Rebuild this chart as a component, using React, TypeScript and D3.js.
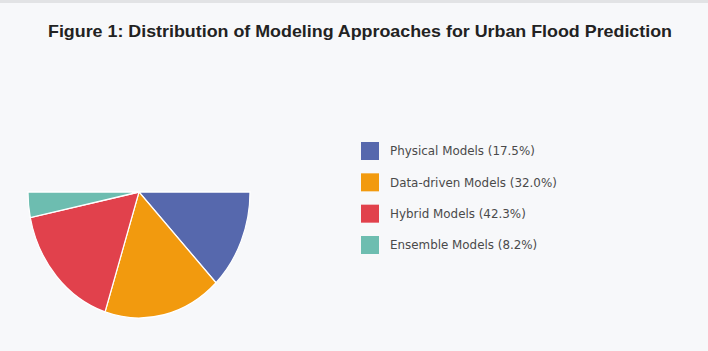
import React from "react";
import * as d3 from "d3";

// legend labels (as printed)
const categories = ["Physical Models", "Data-driven Models", "Hybrid Models", "Ensemble Models"];
const labelPercents = [17.5, 32.0, 42.3, 8.2];
// slice sizes as drawn (share of the half circle)
const sliceShares = [25.6, 34.3, 33.6, 6.5];
const colors = ["#5668ad", "#f29a0e", "#e1414c", "#6dbdb0"];

const title = "Figure 1: Distribution of Modeling Approaches for Urban Flood Prediction";

const App = () => {
  const width = 708;
  const height = 351;
  const cx = 139;
  const cy = 192;
  const radius = 111;
  const squash = 1.135;

  const pie = d3
    .pie<number>()
    .sort(null)
    .value(d => d)
    .startAngle(Math.PI / 2)
    .endAngle((3 * Math.PI) / 2);
  const arcs = pie(sliceShares);
  const arc = d3.arc<d3.PieArcDatum<number>>().innerRadius(0).outerRadius(radius);

  const legendY = d3.scalePoint<string>().domain(categories).range([151, 245]);

  return (
    <svg
      width={width}
      height={height}
      style={{ position: "absolute", left: 0, top: 0, background: "#f7f8fa" }}
      fontFamily="'Liberation Sans', Arial, sans-serif"
    >
      <rect x={0} y={0} width={width} height={3} fill="#e2e3e5" />
      <text
        x={360}
        y={37}
        textAnchor="middle"
        fontSize={16.5}
        fontWeight="bold"
        fill="#222"
        textLength={624}
        lengthAdjust="spacingAndGlyphs"
      >
        {title}
      </text>
      <g transform={`translate(${cx},${cy}) scale(1,${squash})`}>
        {arcs.map((a, i) => (
          <path key={categories[i]} d={arc(a) || ""} fill={colors[i]} stroke="#fff" strokeWidth={1.2} />
        ))}
      </g>
      <g fontFamily="'DejaVu Sans', Verdana, sans-serif">
        {categories.map((c, i) => (
          <g key={c} transform={`translate(361,${legendY(c)})`}>
            <rect x={0} y={-9} width={18} height={18} fill={colors[i]} />
            <text x={29} y={0} dy="0.35em" fontSize={11.9} fill="#4a4a4a">
              {`${c} (${labelPercents[i].toFixed(1)}%)`}
            </text>
          </g>
        ))}
      </g>
    </svg>
  );
};

export default App;
